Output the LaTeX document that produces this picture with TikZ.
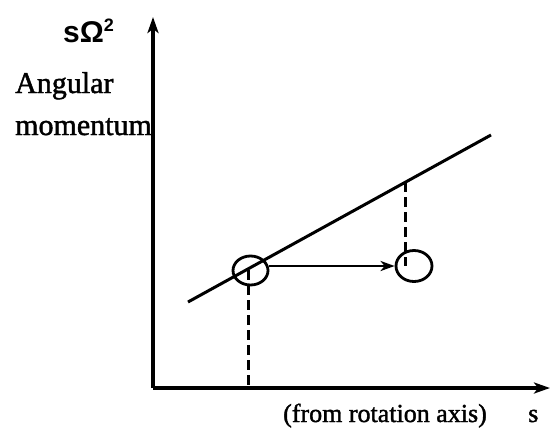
\documentclass[tikz,border=0pt]{standalone}
\usepackage{fontspec}
\setmainfont{Liberation Serif}[FakeBold=1.5]
\newfontfamily\handfont{Liberation Sans}
\usetikzlibrary{arrows.meta,shapes.geometric}
\begin{document}
\begin{tikzpicture}[x=1pt,y=-1pt,
  axis/.style={line width=3.2pt,-{Stealth[length=16pt,width=11pt,inset=4pt]}},
  curve/.style={line width=3pt},
  blob/.style={draw,ellipse,line width=2.8pt,inner sep=0pt},
  guide/.style={line width=3pt,dash pattern=on 10pt off 5pt},
  move/.style={line width=2.8pt,-{Stealth[length=14pt,width=10pt,inset=4pt]}},
  lbl/.style={inner sep=0pt,font=\fontsize{30}{32}\selectfont}]
\useasboundingbox (0,0) rectangle (551,429);
\coordinate (O) at (153,388);
\coordinate (ytop) at (153,17);
\coordinate (xend) at (550,388);
\draw[axis] (O) -- (ytop);
\draw[axis] (O) -- (xend);
\coordinate (L1) at (188,302);
\coordinate (L2) at (491,135);
\draw[curve] (L1) -- (L2);
\node[blob,minimum width=35pt,minimum height=29pt] (c1) at (250.5,270.5) {};
\node[blob,minimum width=36pt,minimum height=31pt] (c2) at (414,266) {};
\coordinate (f1) at (248,388);
\coordinate (p2) at (405,182);
\coordinate (q2) at (405,266);
\draw[guide] (248,270) -- (f1);
\draw[guide] (p2) -- (q2);
\draw[move] (c1.east |- c2.west) -- (c2.west);
\node[lbl,anchor=base west] (ang) at (15,93) {Angular};
\node[lbl,anchor=base west] (mom) at (15,135) {momentum};
\node[lbl,anchor=base west,font=\fontsize{26}{30}\selectfont] (rot) at (283,422) {(from rotation axis)};
\node[lbl,anchor=base west,font=\fontsize{26}{30}\selectfont] (s) at (528,422) {s};
\node[inner sep=0pt,anchor=base west,font=\handfont\bfseries\fontsize{30}{30}\selectfont] (som) at (63,42) {sΩ\raisebox{11pt}{\fontsize{18}{18}\selectfont 2}};
\end{tikzpicture}
\end{document}
